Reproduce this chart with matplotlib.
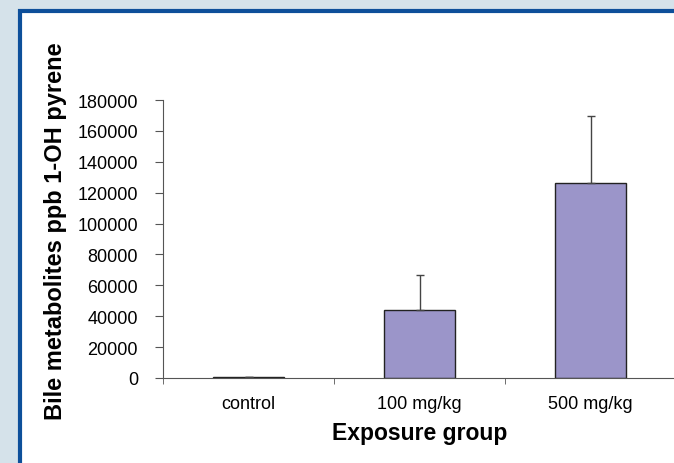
import matplotlib
matplotlib.use("Agg")
import matplotlib.pyplot as plt
from matplotlib.patches import Rectangle

# data
groups = ["control", "100 mg/kg", "500 mg/kg"]
means = [400, 44000, 126300]
errors = [300, 23000, 43500]

plt.rcParams['font.family'] = ['Liberation Sans', 'DejaVu Sans']

fig = plt.figure(figsize=(6.74, 4.64), dpi=100, facecolor='#d5e2ea')

# white panel with the blue frame
panel = Rectangle((20 / 674, -0.1), 1.0, 1 - 12 / 464 + 0.1, transform=fig.transFigure,
                  facecolor='white', edgecolor='#0d4f9a', linewidth=3, zorder=-1)
fig.patches.append(panel)

ax = fig.add_axes([163 / 674, 85 / 464, 513 / 674, 278 / 464])
ax.set_zorder(2)
ax.set_facecolor('none')

x = range(len(groups))
ax.bar(x, means, width=0.42, color='#9b95c9', edgecolor='#222222', linewidth=1.0,
       yerr=[[0] * len(errors), errors], capsize=3,
       error_kw=dict(ecolor='#444444', elinewidth=1.0, capthick=1.0))

ax.set_xlim(-0.5, 2.5)
ax.set_ylim(0, 180000)
ax.set_yticks(range(0, 180001, 20000))
ax.set_yticklabels([str(v) for v in range(0, 180001, 20000)], fontsize=13)

ax.set_xticks(list(x))
ax.set_xticklabels(groups, fontsize=13)
ax.tick_params(axis='x', which='major', length=0, pad=12)
ax.set_xticks([-0.5, 0.5, 1.5, 2.5], minor=True)
ax.tick_params(axis='x', which='minor', length=4.5, color='#555555', direction='out')
ax.tick_params(axis='y', length=6, color='#555555', direction='out', pad=12)

for side in ['top', 'right']:
    ax.spines[side].set_visible(False)
for side in ['left', 'bottom']:
    ax.spines[side].set_color('#555555')

ax.set_xlabel("Exposure group", fontsize=16.5, fontweight='bold')
ax.set_ylabel("Bile metabolites ppb 1-OH pyrene", fontsize=17, fontweight='bold')
ax.yaxis.set_label_coords(-0.187, 0.532)
ax.xaxis.set_label_coords(0.5, -0.155)

fig.savefig("out.png", dpi=100, facecolor=fig.get_facecolor())
